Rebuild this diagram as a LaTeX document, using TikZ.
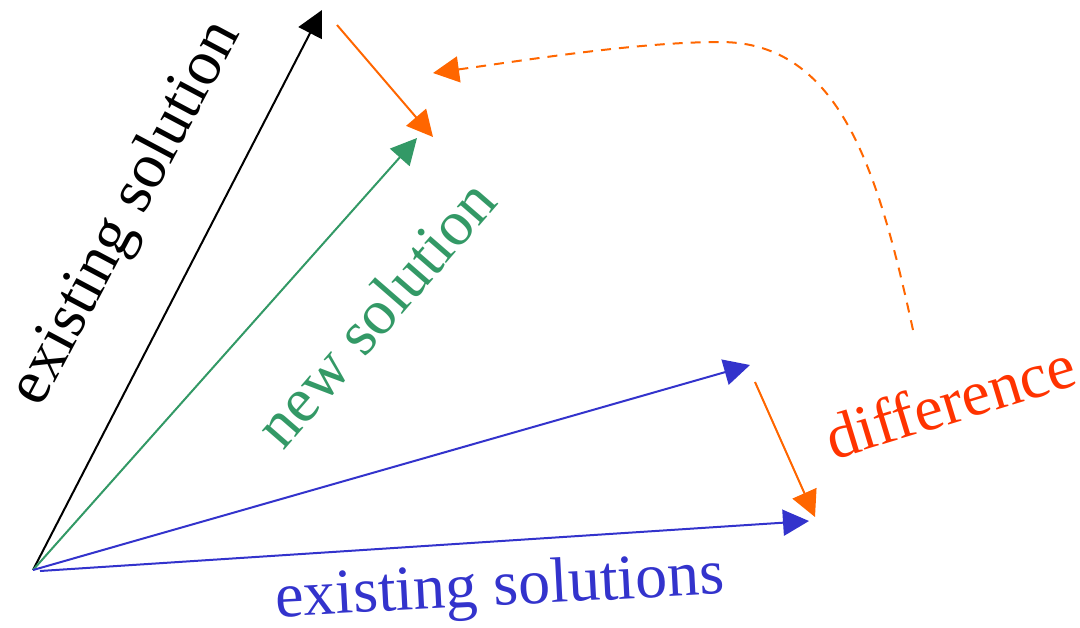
\documentclass[tikz,border=0pt]{standalone}
\usepackage{fontspec}
\setmainfont{Liberation Serif}
\usetikzlibrary{arrows.meta}
\definecolor{cgreen}{RGB}{51,153,102}
\definecolor{cblue}{RGB}{51,51,204}
\definecolor{corange}{RGB}{255,102,0}
\definecolor{cred}{RGB}{255,51,0}
\begin{document}
\begin{tikzpicture}[x=0.5pt,y=-0.5pt,
  vec/.style={line width=1pt,-{Triangle[length=13pt,width=13pt]}},
  lbl/.style={font=\fontsize{32}{38}\selectfont,inner sep=0pt}]
\useasboundingbox (0,0) rectangle (1080,627);
\coordinate (O) at (33,570);
\coordinate (O2) at (40,571);
\coordinate (A) at (322,10);
\coordinate (B) at (417,138);
\coordinate (C) at (750,365);
\coordinate (D) at (809,521);
\coordinate (E1) at (337,25);
\coordinate (E2) at (433,137);
\coordinate (F1) at (755,382);
\coordinate (F2) at (815,517);
\coordinate (G1) at (913,330);
\coordinate (G2) at (720,42);
\coordinate (G3) at (433,73);
\draw[vec,black] (O) -- (A);
\draw[vec,cgreen] (O) -- (B);
\draw[vec,cblue] (O) -- (C);
\draw[vec,cblue] (O2) -- (D);
\draw[vec,corange] (E1) -- (E2);
\draw[vec,corange] (F1) -- (F2);
\draw[vec,corange,dash pattern=on 5pt off 4pt] (G1) .. controls (878,170) and (840,42) .. (G2) .. controls (640,42) and (533,59) .. (G3);
\node[lbl,black,rotate=62] (t1) at (127,214) {existing solution};
\node[lbl,cgreen,rotate=49] (t2) at (375,313) {new solution};
\node[lbl,cblue,rotate=3] (t3) at (500,590) {existing solutions};
\node[lbl,cred,rotate=17] (t4) at (950,401) {difference};
\end{tikzpicture}
\end{document}
